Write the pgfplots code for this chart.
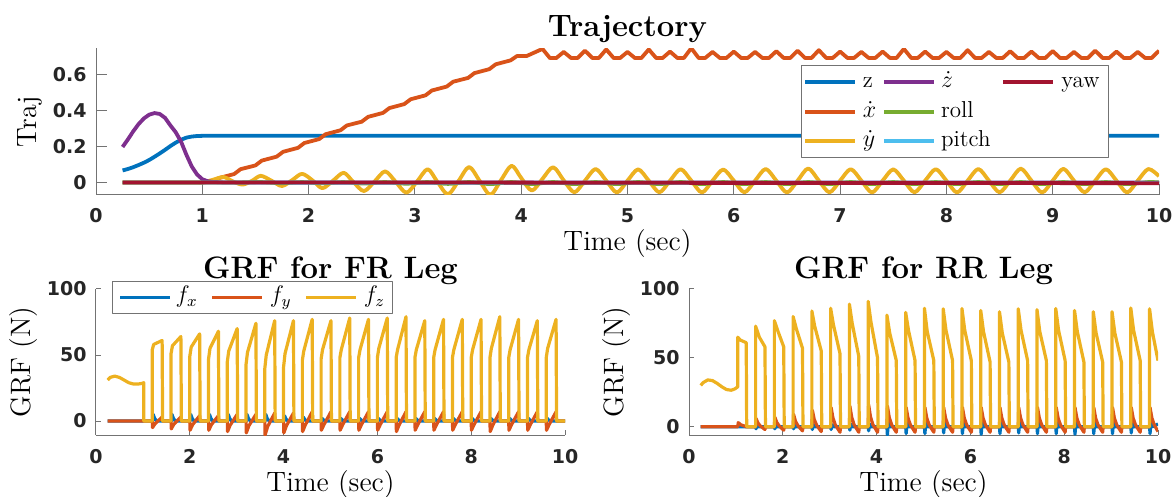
\documentclass[border=0pt]{standalone}
\usepackage{fontspec}
\usepackage{pgfplots}
\pgfplotsset{compat=1.18}
\newfontfamily\tickfont{DejaVu Sans}
\definecolor{c1}{rgb}{0,0.447,0.741}
\definecolor{c2}{rgb}{0.850,0.325,0.098}
\definecolor{c3}{rgb}{0.929,0.694,0.125}
\definecolor{c4}{rgb}{0.494,0.184,0.556}
\definecolor{c5}{rgb}{0.466,0.674,0.188}
\definecolor{c6}{rgb}{0.301,0.745,0.933}
\definecolor{c7}{rgb}{0.635,0.078,0.184}
\definecolor{axgray}{rgb}{0.45,0.45,0.45}
\definecolor{tickc}{rgb}{0.15,0.15,0.15}
\newcommand{\gap}[1]{\rule{#1}{0pt}}
\pgfplotsset{
  matstyle/.style={
    scale only axis, xmin=0, xmax=10,
    axis x line*=bottom, axis y line*=left,
    axis line style={draw=axgray, line width=0.5pt, -},
    tick align=inside, tick style={draw=axgray, line width=0.5pt},
    /pgf/number format/assume math mode=true,
    ticklabel style={font=\tickfont\bfseries\fontsize{9.5}{11}\selectfont, text=tickc},
    xticklabel style={anchor=base, inner sep=0pt, yshift=-14pt},
    yticklabel style={anchor=east, inner sep=0pt, xshift=-4.5pt},
    label style={font=\fontsize{14}{16}\selectfont},
    xlabel style={at={(axis description cs:0.5,0)}, anchor=base, yshift=-28pt},
    title style={font=\bfseries\fontsize{15.5}{18}\selectfont, at={(axis description cs:0.5,1)}, anchor=base},
    line join=round,
    legend cell align=left,
    legend image code/.code={\draw[##1] (0pt,0pt) -- (25pt,0pt);},
  },
  legbox/.style={draw=axgray, line width=0.5pt, fill=white, column sep=0pt,
    font=\fontsize{11.5}{13}\selectfont,
    nodes={inner xsep=0pt, inner ysep=0pt, text height=7.9pt, text depth=2.6pt}},
}
\begin{document}
\begin{tikzpicture}
\useasboundingbox (0,0) rectangle (586.5pt,-248.5pt);

% ---- trajectory ----
\begin{axis}[matstyle, at={(48pt,-97.5pt)}, anchor=south west,
  width=531.5pt, height=73.5pt, ymin=-0.07, ymax=0.75,
  xtick={0,...,10}, ytick={0,0.2,0.4,0.6}, major tick length=5.3pt,
  title={Trajectory},
  xlabel={Time (sec)}, ylabel={Traj},
  ylabel style={at={(axis description cs:-0.0564,0.5)}, anchor=base},
  legend columns=3,
  legend style={legbox, at={(0.953,0.884)}, anchor=north east,
    inner xsep=1pt, inner ysep=3.1pt, row sep=4.25pt}]
\addplot[c1, line width=1.9pt, forget plot] coordinates {(0.25,0.067)(0.3,0.075)(0.35,0.085)(0.4,0.097)(0.45,0.11)(0.5,0.125)(0.55,0.143)(0.6,0.162)(0.65,0.182)(0.7,0.203)(0.75,0.222)(0.8,0.238)(0.85,0.25)(0.9,0.256)(0.95,0.259)(1.0,0.26)(10,0.26)};
\addplot[c2, line width=1.9pt, forget plot] coordinates {(0.25,0)(1.0,0)(1.06,0.004)(1.1,0.005)(1.16,0.025)(1.3,0.047)(1.36,0.074)(1.5,0.095)(1.56,0.122)(1.7,0.144)(1.76,0.171)(1.9,0.193)(1.96,0.22)(2.1,0.242)(2.16,0.269)(2.3,0.291)(2.36,0.318)(2.5,0.339)(2.56,0.366)(2.7,0.388)(2.76,0.415)(2.9,0.437)(2.96,0.464)(3.1,0.486)(3.16,0.513)(3.3,0.535)(3.36,0.562)(3.5,0.583)(3.56,0.61)(3.7,0.632)(3.76,0.659)(3.9,0.681)(3.96,0.705)(4.05,0.705)
(4.2,0.745)(4.27,0.694)(4.33,0.694)(4.4,0.728)(4.47,0.694)(4.53,0.694)(4.6,0.735)(4.67,0.694)(4.73,0.694)(4.8,0.742)(4.87,0.694)(4.93,0.694)(5.0,0.728)(5.07,0.694)(5.13,0.694)(5.2,0.742)(5.27,0.694)(5.33,0.694)(5.4,0.73)(5.47,0.694)(5.53,0.694)(5.6,0.749)(5.67,0.694)(5.73,0.694)(5.8,0.728)(5.87,0.694)(5.93,0.694)(6.0,0.73)(6.07,0.694)(6.13,0.694)(6.2,0.728)(6.27,0.694)(6.33,0.694)(6.4,0.732)(6.47,0.694)(6.53,0.694)(6.6,0.735)(6.67,0.694)(6.73,0.694)(6.8,0.738)(6.87,0.694)(6.93,0.694)(7.0,0.73)(7.07,0.694)(7.13,0.694)(7.2,0.728)(7.27,0.694)(7.33,0.694)(7.4,0.73)(7.47,0.694)(7.53,0.694)(7.6,0.745)(7.67,0.694)(7.73,0.694)(7.8,0.73)(7.87,0.694)(7.93,0.694)(8.0,0.728)(8.07,0.694)(8.13,0.694)(8.2,0.738)(8.27,0.694)(8.33,0.694)(8.4,0.728)(8.47,0.694)(8.53,0.694)(8.6,0.732)(8.67,0.694)(8.73,0.694)(8.8,0.73)(8.87,0.694)(8.93,0.694)(9.0,0.733)(9.07,0.694)(9.13,0.694)(9.2,0.728)(9.27,0.694)(9.33,0.694)(9.4,0.735)(9.47,0.694)(9.53,0.694)(9.6,0.73)(9.67,0.694)(9.73,0.694)(9.8,0.728)(9.87,0.694)(9.93,0.694)(10.0,0.735)};
\addplot[c3, line width=1.9pt, smooth, forget plot] coordinates {(0.25,0)(0.5,0)(0.75,0)(0.9,0)(1.0,0)(1.1,0.015)(1.2,0.03)(1.29,0.005)(1.38,-0.012)(1.47,0.01)(1.55,0.037)(1.65,0.01)(1.75,-0.02)(1.85,0.015)(1.94,0.048)(2.04,0.01)(2.13,-0.032)(2.23,0.01)(2.33,0.054)(2.42,0.003)(2.52,-0.048)(2.62,0.005)(2.72,0.062)(2.82,0.003)(2.92,-0.057)(3.02,0.005)(3.12,0.074)(3.21,0.005)(3.31,-0.066)(3.41,0.008)(3.51,0.086)(3.61,0.008)(3.71,-0.069)(3.81,0.013)(3.91,0.093)(4.0,0.025)(4.1,-0.045)(4.2,0.02)(4.3,0.085)(4.4,0.012)(4.5,-0.055)(4.6,0.01)(4.7,0.075)(4.8,0.01)(4.9,-0.056)(5.0,0.01)(5.1,0.073)(5.2,0.01)(5.3,-0.055)(5.4,0.01)(5.5,0.074)(5.6,0.01)(5.7,-0.056)(5.8,0.01)(5.9,0.072)(6.0,0.01)(6.1,-0.055)(6.2,0.01)(6.3,0.075)(6.4,0.01)(6.5,-0.056)(6.6,0.01)(6.7,0.078)(6.8,0.01)(6.9,-0.055)(7.0,0.01)(7.1,0.074)(7.2,0.01)(7.3,-0.056)(7.4,0.01)(7.5,0.073)(7.6,0.01)(7.7,-0.055)(7.8,0.01)(7.9,0.074)(8.0,0.01)(8.1,-0.056)(8.2,0.01)(8.3,0.075)(8.4,0.01)(8.5,-0.055)(8.6,0.01)(8.7,0.077)(8.8,0.01)(8.9,-0.056)(9.0,0.01)(9.1,0.076)(9.2,0.01)(9.3,-0.055)(9.4,0.01)(9.5,0.074)(9.6,0.01)(9.7,-0.056)(9.8,0.01)(9.9,0.075)(10.0,0.035)};
\addplot[c4, line width=1.9pt, forget plot] coordinates {(0.25,0.198)(0.3,0.24)(0.35,0.285)(0.4,0.325)(0.45,0.357)(0.5,0.378)(0.55,0.387)(0.6,0.382)(0.65,0.36)(0.7,0.318)(0.75,0.28)(0.8,0.228)(0.85,0.155)(0.9,0.09)(0.95,0.045)(1.0,0.018)(1.05,0.007)(1.1,0.003)(1.2,0)(10,0)};
\addplot[c5, line width=1.9pt, smooth, forget plot] coordinates {(0.25,0)(0.5,0)(0.75,0)(1.0,0)(1.2,0)(1.35,0)(1.55,0.002)(1.75,-0.004)(1.94,0.002)(2.13,-0.005)(2.33,0.002)(2.52,-0.006)(2.72,0.002)(2.92,-0.007)(3.12,0.002)(3.31,-0.008)(3.51,0.002)(3.71,-0.009)(3.91,0.002)(4.1,-0.009)(4.3,0.002)(4.5,-0.009)(4.7,0.002)(4.9,-0.009)(5.1,0.002)(5.3,-0.009)(5.5,0.002)(5.7,-0.009)(5.9,0.002)(6.1,-0.009)(6.3,0.002)(6.5,-0.009)(6.7,0.002)(6.9,-0.009)(7.1,0.002)(7.3,-0.009)(7.5,0.002)(7.7,-0.009)(7.9,0.002)(8.1,-0.009)(8.3,0.002)(8.5,-0.009)(8.7,0.002)(8.9,-0.009)(9.1,0.002)(9.3,-0.009)(9.5,0.002)(9.7,-0.009)(9.9,0.002)(10,0)};
\addplot[c6, line width=1.9pt, forget plot] coordinates {(0.25,0)(4,-0.002)(10,-0.002)};
\addplot[c7, line width=1.9pt, forget plot] coordinates {(0.25,0)(3,0)(5,-0.002)(10,-0.004)};
\addlegendimage{c1, line width=1.9pt}\addlegendentry{\gap{3pt}z\gap{3pt}}
\addlegendimage{c4, line width=1.9pt}\addlegendentry{\gap{2.5pt}$\dot{z}$\gap{5.5pt}}
\addlegendimage{c7, line width=1.9pt}\addlegendentry{\gap{3pt}yaw\gap{3.5pt}}
\addlegendimage{c2, line width=1.9pt}\addlegendentry{\gap{3pt}$\dot{x}$\gap{3pt}}
\addlegendimage{c5, line width=1.9pt}\addlegendentry{\gap{2.5pt}roll\gap{5.5pt}}
\addlegendimage{empty legend}\addlegendentry{}
\addlegendimage{c3, line width=1.9pt}\addlegendentry{\gap{3pt}$\dot{y}$\gap{3pt}}
\addlegendimage{c6, line width=1.9pt}\addlegendentry{\gap{2.5pt}pitch\gap{5.5pt}}
\end{axis}

% ---- GRF FR ----
\begin{axis}[matstyle, at={(48pt,-217.5pt)}, anchor=south west,
  width=234.5pt, height=73pt, ymin=-10.6, ymax=100,
  xtick={0,2,...,10}, ytick={0,50,100}, major tick length=2.4pt,
  title={GRF for FR Leg}, title style={yshift=-1pt},
  xlabel={Time (sec)}, ylabel={GRF (N)},
  ylabel style={at={(axis description cs:-0.1407,0.5)}, anchor=base},
  legend columns=3,
  legend style={legbox, at={(0.034,1.055)}, anchor=north west,
    inner xsep=3pt, inner ysep=2.8pt}]
\addplot[c1, line width=1.6pt] coordinates {(0.25,0)(1.21,0)(1.22,5)(1.25,2)(1.29,0)(1.61,0)(1.62,5)(1.65,2)(1.69,0)(2.01,0)(2.02,5)(2.05,2)(2.09,0)(2.41,0)(2.42,5)(2.45,2)(2.49,0)(2.81,0)(2.82,5)(2.85,2)(2.89,0)(3.21,0)(3.22,5)(3.25,2)(3.29,0)(3.61,0)(3.62,5)(3.65,2)(3.69,0)(4.01,0)(4.02,4)(4.05,1.6)(4.09,0)(4.41,0)(4.42,3)(4.45,1.2)(4.49,0)(4.81,0)(4.82,2)(4.85,0.8)(4.89,0)(5.21,0)(5.22,2)(5.25,0.8)(5.29,0)(5.61,0)(5.62,2)(5.65,0.8)(5.69,0)(6.01,0)(6.02,2)(6.05,0.8)(6.09,0)(6.41,0)(6.42,2)(6.45,0.8)(6.49,0)(6.81,0)(6.82,2)(6.85,0.8)(6.89,0)(7.21,0)(7.22,2)(7.25,0.8)(7.29,0)(7.61,0)(7.62,2)(7.65,0.8)(7.69,0)(8.01,0)(8.02,2)(8.05,0.8)(8.09,0)(8.41,0)(8.42,2)(8.45,0.8)(8.49,0)(8.81,0)(8.82,2)(8.85,0.8)(8.89,0)(9.21,0)(9.22,2)(9.25,0.8)(9.29,0)(9.61,0)(9.62,2)(9.65,0.8)(9.69,0)(10,0)};
\addlegendentry{\gap{2pt}$f_x$\gap{6.5pt}}
\addplot[c2, line width=1.6pt] coordinates {(0.25,0)(1.2,0)(1.205,-5)(1.26,-2)(1.41,3)(1.42,0)(1.6,0)(1.605,-6)(1.66,-2.4)(1.81,3)(1.82,0)(2.0,0)(2.005,-7)(2.06,-2.8)(2.21,4)(2.22,0)(2.4,0)(2.405,-7)(2.46,-2.8)(2.61,4)(2.62,0)(2.8,0)(2.805,-8)(2.86,-3.2)(3.01,5)(3.02,0)(3.2,0)(3.205,-9)(3.26,-3.6)(3.41,5)(3.42,0)(3.6,0)(3.605,-10.6)(3.66,-4.2)(3.81,6)(3.82,0)(4.0,0)(4.005,-9)(4.06,-3.6)(4.21,6)(4.22,0)(4.4,0)(4.405,-8)(4.46,-3.2)(4.61,7)(4.62,0)(4.8,0)(4.805,-7)(4.86,-2.8)(5.01,7)(5.02,0)(5.2,0)(5.205,-7)(5.26,-2.8)(5.41,7)(5.42,0)(5.6,0)(5.605,-7)(5.66,-2.8)(5.81,7)(5.82,0)(6.0,0)(6.005,-7)(6.06,-2.8)(6.21,7)(6.22,0)(6.4,0)(6.405,-8)(6.46,-3.2)(6.61,7)(6.62,0)(6.8,0)(6.805,-7)(6.86,-2.8)(7.01,7)(7.02,0)(7.2,0)(7.205,-7)(7.26,-2.8)(7.41,7)(7.42,0)(7.6,0)(7.605,-7)(7.66,-2.8)(7.81,7)(7.82,0)(8.0,0)(8.005,-7)(8.06,-2.8)(8.21,7)(8.22,0)(8.4,0)(8.405,-8)(8.46,-3.2)(8.61,7)(8.62,0)(8.8,0)(8.805,-7)(8.86,-2.8)(9.01,7)(9.02,0)(9.2,0)(9.205,-7)(9.26,-2.8)(9.41,7)(9.42,0)(9.6,0)(9.605,-7)(9.66,-2.8)(9.81,7)(9.82,0)(10,0)};
\addlegendentry{\gap{3pt}$f_y$\gap{6.5pt}}
\addplot[c3, line width=1.6pt] coordinates {(0.25,31)(0.3,33)(0.4,34)(0.5,33)(0.6,31)(0.7,29)(0.8,28)(0.9,28)(0.98,28.5)(1.02,29)(1.02,0)(1.2,0)(1.2,54)(1.23,58)(1.41,61)(1.42,0)(1.6,0)(1.6,51)(1.63,57)(1.81,64)(1.82,0)(2.0,0)(2.0,49)(2.03,56)(2.21,66)(2.22,0)(2.4,0)(2.4,47)(2.43,55)(2.61,68)(2.62,0)(2.8,0)(2.8,45)(2.83,53)(3.01,70)(3.02,0)(3.2,0)(3.2,43)(3.23,52)(3.41,74)(3.42,0)(3.6,0)(3.6,40)(3.63,50)(3.81,76)(3.82,0)(4.0,0)(4.0,41)(4.03,51)(4.21,76)(4.22,0)(4.4,0)(4.4,46)(4.43,53)(4.61,77)(4.62,0)(4.8,0)(4.8,47)(4.83,54)(5.01,76)(5.02,0)(5.2,0)(5.2,48)(5.23,54)(5.41,78)(5.42,0)(5.6,0)(5.6,48)(5.63,54)(5.81,77)(5.82,0)(6.0,0)(6.0,48)(6.03,55)(6.21,78)(6.22,0)(6.4,0)(6.4,48)(6.43,54)(6.61,79)(6.62,0)(6.8,0)(6.8,48)(6.83,54)(7.01,76)(7.02,0)(7.2,0)(7.2,48)(7.23,54)(7.41,77)(7.42,0)(7.6,0)(7.6,48)(7.63,54)(7.81,77)(7.82,0)(8.0,0)(8.0,48)(8.03,54)(8.21,77)(8.22,0)(8.4,0)(8.4,48)(8.43,55)(8.61,79)(8.62,0)(8.8,0)(8.8,48)(8.83,54)(9.01,77)(9.02,0)(9.2,0)(9.2,48)(9.23,54)(9.41,76)(9.42,0)(9.6,0)(9.6,48)(9.63,55)(9.81,77)(9.82,0)(10,0)};
\addlegendentry{\gap{3pt}$f_z$\gap{1pt}}
\end{axis}

% ---- GRF RR ----
\begin{axis}[matstyle, at={(344.5pt,-217.5pt)}, anchor=south west,
  width=234.5pt, height=73pt, ymin=-6, ymax=100,
  xtick={0,2,...,10}, ytick={0,50,100}, major tick length=2.4pt,
  title={GRF for RR Leg}, title style={yshift=-1pt},
  xlabel={Time (sec)}, ylabel={GRF (N)},
  ylabel style={at={(axis description cs:-0.1407,0.5)}, anchor=base}]
\addplot[c1, line width=1.6pt] coordinates {(0.25,0)(1.42,0)(1.43,-1.5)(1.45,1)(1.48,0)(1.82,0)(1.83,-1.5)(1.85,1)(1.88,0)(2.22,0)(2.23,-1.5)(2.25,1)(2.28,0)(2.62,0)(2.63,-2)(2.65,1.5)(2.68,0)(3.02,0)(3.03,-2)(3.05,1.5)(3.08,0)(3.42,0)(3.43,-2.5)(3.45,2)(3.48,0)(3.82,0)(3.83,-3)(3.85,2)(3.88,0)(4.22,0)(4.23,-6)(4.25,3)(4.28,0)(4.62,0)(4.63,-5)(4.65,3)(4.68,0)(5.02,0)(5.03,-5)(5.05,3)(5.08,0)(5.42,0)(5.43,-4.5)(5.45,3)(5.48,0)(5.82,0)(5.83,-5)(5.85,3)(5.88,0)(6.22,0)(6.23,-5.5)(6.25,3)(6.28,0)(6.62,0)(6.63,-5)(6.65,3)(6.68,0)(7.02,0)(7.03,-4.5)(7.05,3)(7.08,0)(7.42,0)(7.43,-5)(7.45,3)(7.48,0)(7.82,0)(7.83,-5)(7.85,3)(7.88,0)(8.22,0)(8.23,-5.5)(8.25,3)(8.28,0)(8.62,0)(8.63,-5)(8.65,3)(8.68,0)(9.02,0)(9.03,-5)(9.05,3)(9.08,0)(9.42,0)(9.43,-4.5)(9.45,3)(9.48,0)(9.82,0)(9.83,-5)(9.85,3)(9.88,0)(10,2)};
\addplot[c2, line width=1.6pt] coordinates {(0.25,0)(1.04,0)(1.05,3)(1.1,1.5)(1.22,0)(1.42,0)(1.43,6)(1.47,2.7)(1.52,0.6)(1.62,-2)(1.63,0)(1.82,0)(1.83,7)(1.87,3.2)(1.92,0.7)(2.02,-2.5)(2.03,0)(2.22,0)(2.23,9)(2.27,4)(2.32,0.9)(2.42,-3)(2.43,0)(2.62,0)(2.63,12)(2.67,5.4)(2.72,1.2)(2.82,-3.5)(2.83,0)(3.02,0)(3.03,14)(3.07,6.3)(3.12,1.4)(3.22,-4)(3.23,0)(3.42,0)(3.43,15)(3.47,6.8)(3.52,1.5)(3.62,-4)(3.63,0)(3.82,0)(3.83,16)(3.87,7.2)(3.92,1.6)(4.02,-4)(4.03,0)(4.22,0)(4.23,15)(4.27,6.8)(4.32,1.5)(4.42,-4)(4.43,0)(4.62,0)(4.63,14)(4.67,6.3)(4.72,1.4)(4.82,-4)(4.83,0)(5.02,0)(5.03,14)(5.07,6.3)(5.12,1.4)(5.22,-4)(5.23,0)(5.42,0)(5.43,14)(5.47,6.3)(5.52,1.4)(5.62,-4)(5.63,0)(5.82,0)(5.83,14)(5.87,6.3)(5.92,1.4)(6.02,-4)(6.03,0)(6.22,0)(6.23,14)(6.27,6.3)(6.32,1.4)(6.42,-4)(6.43,0)(6.62,0)(6.63,14)(6.67,6.3)(6.72,1.4)(6.82,-4)(6.83,0)(7.02,0)(7.03,14)(7.07,6.3)(7.12,1.4)(7.22,-4)(7.23,0)(7.42,0)(7.43,14)(7.47,6.3)(7.52,1.4)(7.62,-4)(7.63,0)(7.82,0)(7.83,14)(7.87,6.3)(7.92,1.4)(8.02,-4)(8.03,0)(8.22,0)(8.23,14)(8.27,6.3)(8.32,1.4)(8.42,-4)(8.43,0)(8.62,0)(8.63,14)(8.67,6.3)(8.72,1.4)(8.82,-4)(8.83,0)(9.02,0)(9.03,14)(9.07,6.3)(9.12,1.4)(9.22,-4)(9.23,0)(9.42,0)(9.43,14)(9.47,6.3)(9.52,1.4)(9.62,-4)(9.63,0)(9.82,0)(9.83,14)(9.87,6.3)(9.92,1.4)(10,-3.5)};
\addplot[c3, line width=1.6pt] coordinates {(0.25,30)(0.3,32)(0.4,34)(0.5,33.5)(0.6,31.5)(0.7,29)(0.8,27)(0.9,26.5)(0.98,27.5)(1.04,29)(1.04,65)(1.09,63)(1.22,61)(1.23,0)(1.42,0)(1.42,73)(1.5,65)(1.62,58)(1.63,0)(1.82,0)(1.82,77)(1.9,69)(2.02,58)(2.03,0)(2.22,0)(2.22,80)(2.29,71)(2.42,57)(2.43,0)(2.62,0)(2.62,84)(2.68,73)(2.82,55)(2.83,0)(3.02,0)(3.02,86)(3.08,74)(3.22,53)(3.23,0)(3.42,0)(3.42,89)(3.48,75)(3.62,51)(3.63,0)(3.82,0)(3.82,91)(3.88,76)(4.02,50)(4.03,0)(4.22,0)(4.22,81)(4.28,68)(4.42,48)(4.43,0)(4.62,0)(4.62,83)(4.68,70)(4.82,48)(4.83,0)(5.02,0)(5.02,86)(5.08,69)(5.22,48)(5.23,0)(5.42,0)(5.42,85.6)(5.48,70)(5.62,48)(5.63,0)(5.82,0)(5.82,85.8)(5.88,70)(6.02,48)(6.03,0)(6.22,0)(6.22,84.4)(6.28,69)(6.42,47)(6.43,0)(6.62,0)(6.62,83.5)(6.68,68)(6.82,47)(6.83,0)(7.02,0)(7.02,85.6)(7.08,70)(7.22,48)(7.23,0)(7.42,0)(7.42,85)(7.48,69)(7.62,48)(7.63,0)(7.82,0)(7.82,85.8)(7.88,70)(8.02,48)(8.03,0)(8.22,0)(8.22,84.4)(8.28,69)(8.42,47)(8.43,0)(8.62,0)(8.62,83.5)(8.68,68)(8.82,47)(8.83,0)(9.02,0)(9.02,83.5)(9.08,68)(9.22,47)(9.23,0)(9.42,0)(9.42,86.2)(9.48,70)(9.62,48)(9.63,0)(9.82,0)(9.82,85.6)(9.88,69)(10,48)};
\end{axis}
\end{tikzpicture}
\end{document}
